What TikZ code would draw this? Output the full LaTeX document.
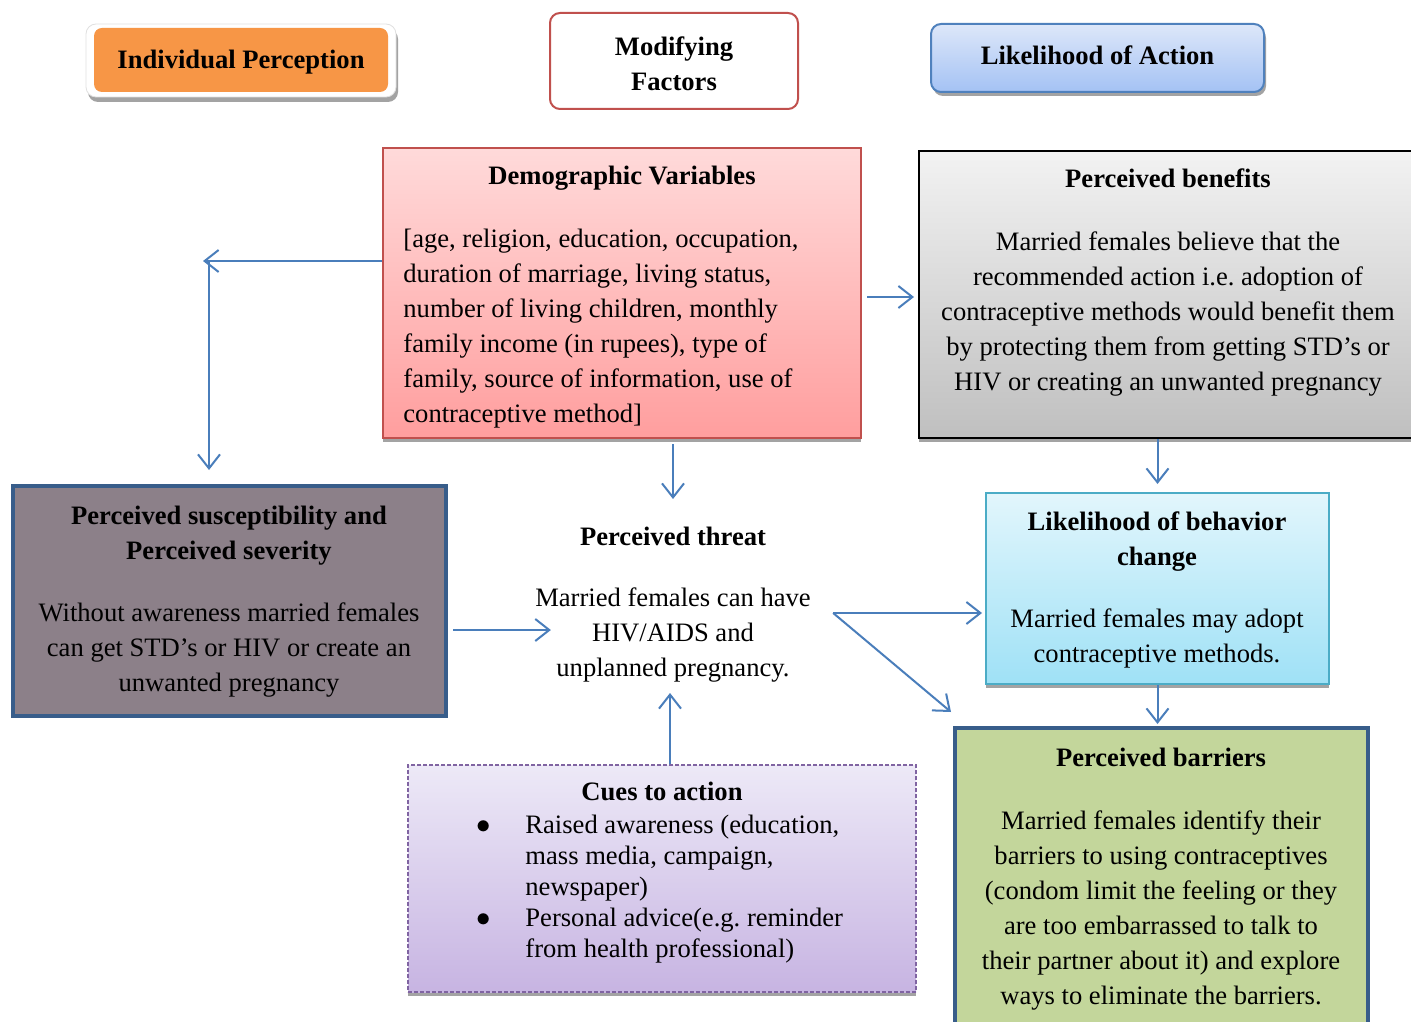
\documentclass[tikz,border=0pt]{standalone}
\usepackage{fontspec}
\setmainfont{Liberation Serif}
\frenchspacing
\usetikzlibrary{arrows.meta,shadows}

\definecolor{linkblue}{HTML}{4A7EBB}
\definecolor{hborange}{HTML}{F79646}
\definecolor{hbred}{HTML}{C0504D}
\definecolor{hbblue}{HTML}{4F81BD}
\definecolor{hbnavy}{HTML}{385D8A}
\definecolor{hbteal}{HTML}{4BACC6}
\definecolor{hbpurple}{HTML}{8064A2}
\definecolor{hbolive}{HTML}{C3D69B}
\definecolor{hbmauve}{HTML}{8C8089}
\definecolor{hbsky1}{HTML}{DDE7F9}
\definecolor{hbsky2}{HTML}{A4C2F4}
\definecolor{hbpink1}{HTML}{FFDADA}
\definecolor{hbpink2}{HTML}{FF9E9E}
\definecolor{hbcyan1}{HTML}{E2F6FC}
\definecolor{hbcyan2}{HTML}{9FE1F6}
\definecolor{hblav1}{HTML}{EDE9F7}
\definecolor{hblav2}{HTML}{C7B4E2}

\tikzset{
  link/.style={draw=linkblue, line width=1pt, -{Straight Barb[length=7pt,width=11pt]}},
  panel/.style={draw, inner sep=0pt},
  lowshadow/.style={drop shadow={shadow xshift=0pt,shadow yshift=-2pt,fill=black!40,opacity=.9}},
  copy/.style={inner sep=0pt, align=center, font=\fontsize{13.3}{17.5}\selectfont},
  heading/.style={copy, font=\fontsize{13.3}{17.5}\selectfont\bfseries},
}

\begin{document}
\begin{tikzpicture}[x=0.5pt,y=-0.5pt]
  \useasboundingbox[fill=white] (0,0) rectangle (1411,1021);

  % column headings
  \node[panel, draw=black!12, fill=white, rounded corners=5pt,
        minimum width=155pt, minimum height=36.5pt,
        drop shadow={shadow xshift=1pt,shadow yshift=-2.5pt,fill=black!45,opacity=.8}] (ipframe) at (241,60.5) {};
  \node[panel, draw=none, fill=hborange, rounded corners=4pt,
        minimum width=147pt, minimum height=32pt] (ip) at (241,60) {};
  \node[panel, draw=hbred, line width=1pt, fill=white, rounded corners=5pt,
        minimum width=124pt, minimum height=48pt] (mf) at (674,61) {};
  \node[panel, draw=hbblue, line width=1pt, top color=hbsky1, bottom color=hbsky2,
        rounded corners=5pt, minimum width=166.5pt, minimum height=34pt,
        drop shadow={shadow xshift=1pt,shadow yshift=-2pt,fill=black!45,opacity=.8}] (la) at (1097.5,58) {};
  \node[heading] (iptext) at (241,62) {Individual Perception};
  \node[heading] (mftext) at (674,63.5) {Modifying\\Factors};
  \node[heading] (latext) at (1097.5,55) {Likelihood of Action};

  % boxes
  \node[panel, draw=hbred, line width=1pt, top color=hbpink1, bottom color=hbpink2, lowshadow,
        minimum width=239pt, minimum height=145pt] (demo) at (622,293) {};
  \node[panel, draw=black, line width=1pt, top color=black!5, bottom color=black!25, lowshadow,
        minimum width=249pt, minimum height=143.5pt] (benefits) at (1168,294.5) {};
  \node[panel, draw=hbnavy, line width=2pt, fill=hbmauve,
        minimum width=216.5pt, minimum height=115pt] (susc) at (229.5,601) {};
  \node[panel, draw=hbteal, line width=1pt, top color=hbcyan1, bottom color=hbcyan2, lowshadow,
        minimum width=171.5pt, minimum height=95.5pt] (behavior) at (1157.5,588.5) {};
  \node[panel, draw=hbnavy, line width=2pt, fill=hbolive,
        minimum width=206.5pt, minimum height=153pt] (barriers) at (1161.5,881) {};
  \node[panel, draw=hbpurple, line width=0.7pt, dash pattern=on 2pt off 1pt, top color=hblav1, bottom color=hblav2, lowshadow,
        minimum width=254pt, minimum height=113.5pt] (cues) at (662,878.5) {};

  % texts
  \node[heading] (demotitle) at (622,178) {Demographic Variables};
  \node[copy, align=left, anchor=west] (demotext) at (403,328.5) {[age, religion, education, occupation,\\
    duration of marriage, living status,\\
    number of living children, monthly\\
    family income (in rupees), type of\\
    family, source of information, use of\\
    contraceptive method]};
  \node[copy] (benefitstext) at (1168,282.5) {\textbf{Perceived benefits}\\[14pt]
    Married females believe that the\\
    recommended action i.e. adoption of\\
    contraceptive methods would benefit them\\
    by protecting them from getting STD’s or\\
    HIV or creating an unwanted pregnancy};
  \node[copy] (susctext) at (229,601.5) {\textbf{Perceived susceptibility and}\\
    \textbf{Perceived severity}\\[13.5pt]
    Without awareness married females\\
    can get STD’s or HIV or create an\\
    unwanted pregnancy};
  \node[copy] (threat) at (673,605) {\textbf{Perceived threat}\\[13pt]
    Married females can have\\
    HIV/AIDS and\\
    unplanned pregnancy.};
  \node[copy] (behaviortext) at (1157,589.5) {\textbf{Likelihood of behavior}\\
    \textbf{change}\\[13.5pt]
    Married females may adopt\\
    contraceptive methods.};
  \node[copy] (barrierstext) at (1161,879.5) {\textbf{Perceived barriers}\\[14pt]
    Married females identify their\\
    barriers to using contraceptives\\
    (condom limit the feeling or they\\
    are too embarrassed to talk to\\
    their partner about it) and explore\\
    ways to eliminate the barriers.};
  \node[heading] (cuestitle) at (662,791) {Cues to action};
  \node[copy, font=\fontsize{13.3}{15.5}\selectfont, anchor=west] (cuestext) at (476,889) {%
    \begin{tabular}{@{}p{24.5pt}@{}l@{}}
      $\bullet$ & Raised awareness (education,\\
                & mass media, campaign,\\
                & newspaper)\\
      $\bullet$ & Personal advice(e.g. reminder\\
                & from health professional)
    \end{tabular}};

  % connectors
  \coordinate (bend) at (209,261);
  \coordinate (tin) at ([shift={(8pt,-12.5pt)}]threat.west);
  \coordinate (tout) at ([shift={(11pt,-4pt)}]threat.east);
  \coordinate (ttop) at ([yshift=14pt]threat.north);
  \coordinate (tlow) at ([shift={(-1.5pt,-5pt)}]threat.south);

  \draw[link] (demo.west |- bend) -- ([xshift=-3pt]bend);
  \draw[link, shorten >=7pt] (bend) -- (bend |- susc.north);
  \draw[link, shorten <=2.5pt, shorten >=2pt] ([yshift=-2pt]demo.east) -- ([yshift=-2pt]demo.east -| benefits.west);
  \draw[link, shorten <=2.5pt] (demo.south -| ttop) -- (ttop);
  \draw[link, shorten >=4pt] (benefits.south -| behavior.north) -- (behavior.north);
  \draw[link, shorten <=2.5pt] (susc.east |- tin) -- (tin);
  \draw[link, shorten >=1.5pt] (tout) -- (tout -| behavior.west);
  \draw[link] (tout) -- ([shift={(-1pt,7pt)}]barriers.north west);
  \draw[link, shorten >=1pt] (behavior.south) -- (behavior.south |- barriers.north);
  \draw[link] (cues.north -| tlow) -- (tlow);
\end{tikzpicture}
\end{document}
